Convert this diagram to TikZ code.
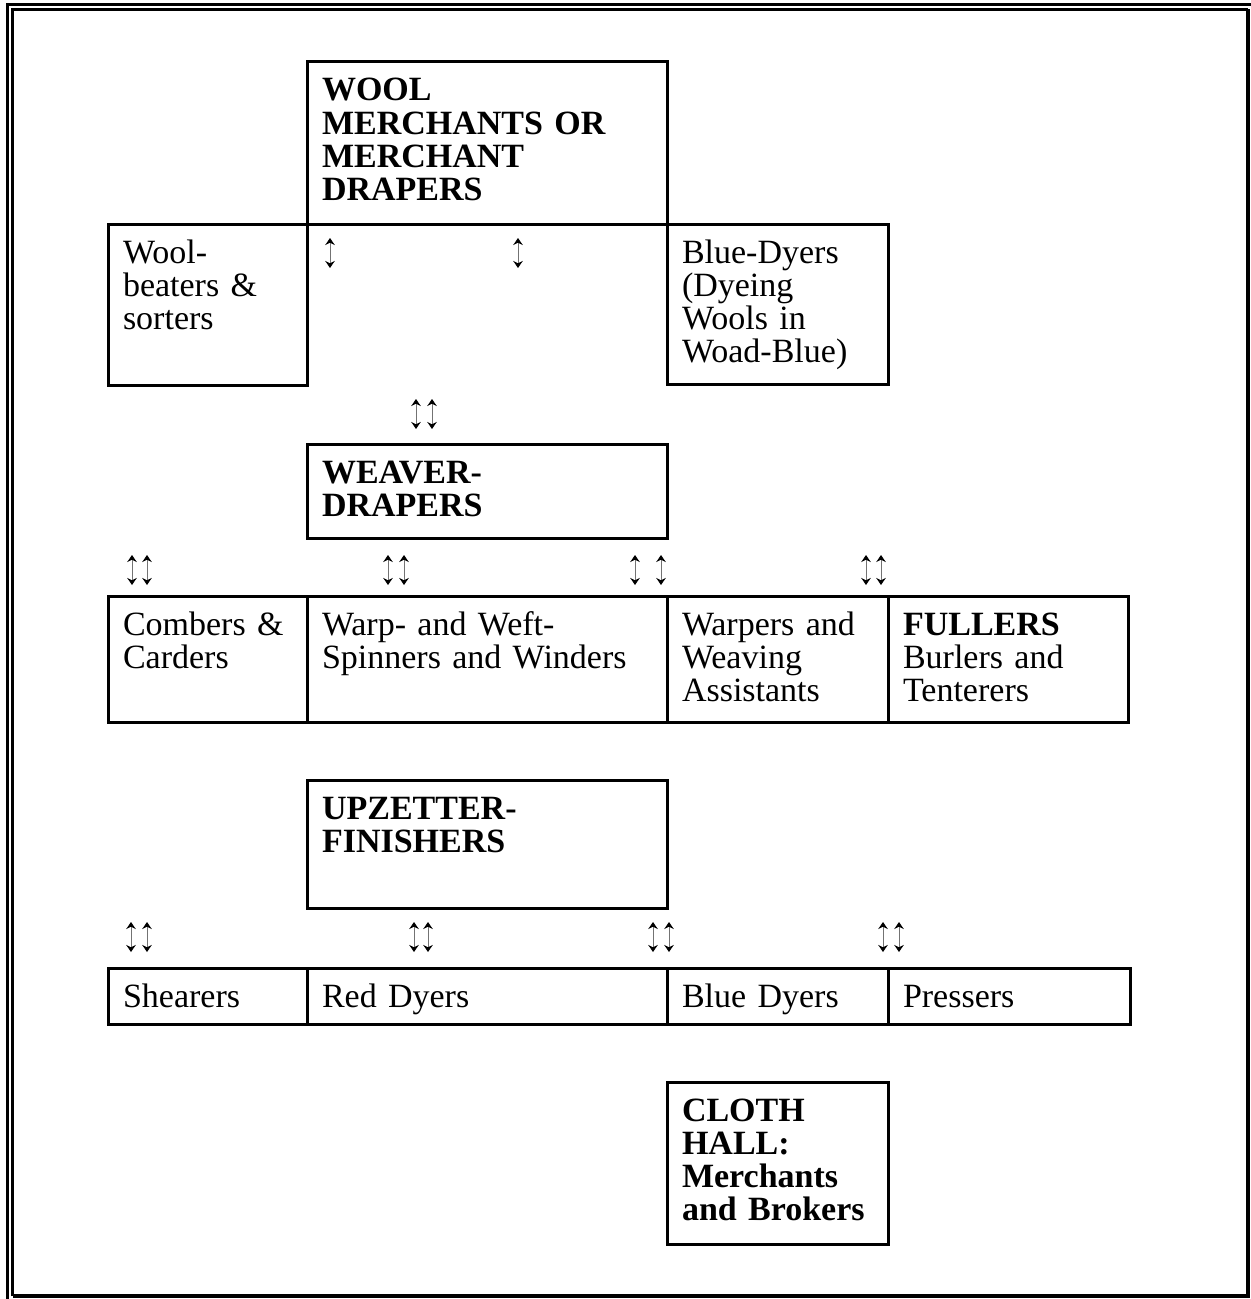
\documentclass[tikz,border=0pt]{standalone}
\usepackage{fontspec}
\setmainfont{Liberation Serif}
\usetikzlibrary{arrows.meta}
\tikzset{
  cella/.style={draw, line width=1.2pt, anchor=north west, outer sep=0pt, inner xsep=6pt, inner ysep=0pt, text height=15.6pt, align=left},
  frecce/.style={{Stealth[length=2.8pt,width=3.8pt,color=black]}-{Stealth[length=2.8pt,width=3.8pt,color=black]}, draw=black!55, line width=0.4pt}
}
\begin{document}
\begin{tikzpicture}[x=0.4pt,y=-0.4pt,font=\fontsize{13.6pt}{13.3pt}\selectfont]
        \useasboundingbox (0,0) rectangle (1251,1299);
        %cornice
        \draw[line width=1.2pt] (7.5,1299) -- (7.5,4.5) -- (1251,4.5);
        \draw[line width=1.2pt] (12.5,1296) -- (12.5,9.5) -- (1248,9.5);
        \draw[line width=1.8pt] (12.5,1296) -- (1248,1296) -- (1248,9.5);
        %mercanti
        \node[cella, text width=132pt, text depth=49.2pt] (wool) at (307,62) {\textbf{WOOL}\\\textbf{MERCHANTS OR}\\\textbf{MERCHANT}\\\textbf{DRAPERS}};
        \node[cella, text width=67.6pt, text depth=48.8pt] (beaters) at (108,224) {Wool-\\beaters \&\\sorters};
        \node[cella, text width=76.4pt, text depth=48.4pt] (bluewool) at (667,224) {Blue-Dyers\\(Dyeing\\Wools in\\Woad-Blue)};
        %tessitori
        \node[cella, text width=132pt, text depth=22pt] (weaver) at (307,444) {\textbf{WEAVER-}\\\textbf{DRAPERS}};
        \node[cella, text width=67.6pt, text depth=34.8pt] (combers) at (108,596) {Combers \&\\Carders};
        \node[cella, text width=132pt, text depth=34.8pt] (spinners) at (307,596) {Warp- and Weft-\\Spinners and Winders};
        \node[cella, text width=76.4pt, text depth=34.8pt] (warpers) at (667,596) {Warpers and\\Weaving\\Assistants};
        \node[cella, text width=84pt, text depth=34.8pt] (fullers) at (888,596) {\textbf{FULLERS}\\Burlers and\\Tenterers};
        %rifinitori
        \node[cella, text width=132pt, text depth=35.6pt] (upzetter) at (307,780) {\textbf{UPZETTER-}\\\textbf{FINISHERS}};
        \node[cella, text width=67.6pt, text depth=6.8pt] (shearers) at (108,968) {Shearers};
        \node[cella, text width=132pt, text depth=6.8pt] (reddyers) at (307,968) {Red Dyers};
        \node[cella, text width=76.4pt, text depth=6.8pt] (bluedyers) at (667,968) {Blue Dyers};
        \node[cella, text width=84.8pt, text depth=6.8pt] (pressers) at (888,968) {Pressers};
        %mercato
        \node[cella, text width=76.4pt, text depth=49.2pt] (clothhall) at (667,1082) {\textbf{CLOTH}\\\textbf{HALL:}\\\textbf{Merchants}\\\textbf{and Brokers}};
        %frecce
        \foreach \x/\y in {330/253,518/253,416/414,432/414,
                           132/570,147/570,388/570,404/570,635/570,661/570,866/570,881/570,
                           131/937,147/937,414/937,428/937,653/937,669/937,883/937,899/937}
            \draw[frecce] (\x,\y-15) -- (\x,\y+15);
\end{tikzpicture}
\end{document}
